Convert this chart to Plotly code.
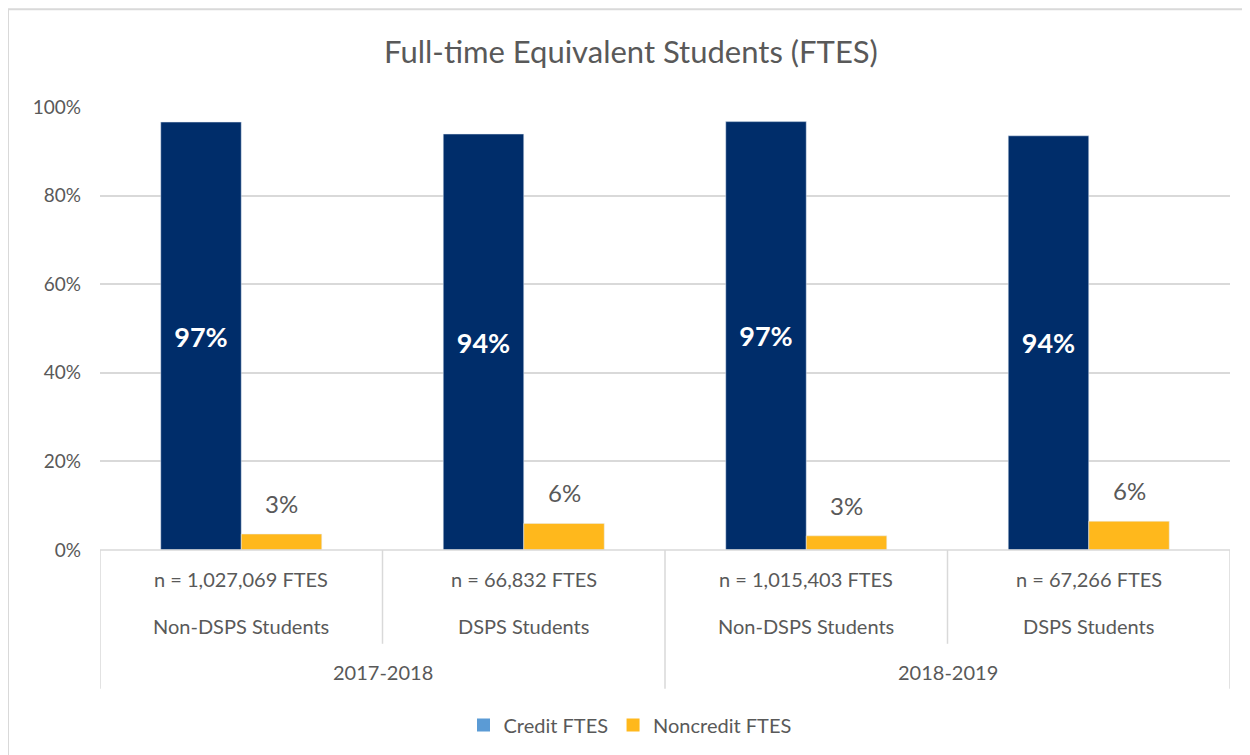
"""Clustered column chart of credit vs noncredit FTES shares."""

import plotly.graph_objects as go

YEARS = ["2017-2018", "2018-2019"]
GROUPS = ["Non-DSPS Students", "DSPS Students", "Non-DSPS Students", "DSPS Students"]
COUNTS = ["n = 1,027,069 FTES", "n = 66,832 FTES", "n = 1,015,403 FTES", "n = 67,266 FTES"]
CREDIT = [0.966, 0.939, 0.967, 0.935]
NONCREDIT = [0.036, 0.060, 0.032, 0.065]
CREDIT_LABELS = ["97%", "94%", "97%", "94%"]
NONCREDIT_LABELS = ["3%", "6%", "3%", "6%"]
Y_TICKS = [0, 0.2, 0.4, 0.6, 0.8, 1.0]

FONT = "Lato, 'Open Sans', sans-serif"
GREY = "#595959"
LINE = "#D9D9D9"
NAVY = "#002D6A"
GOLD = "#FFB81C"
BARGAP = 0.43

# the page body adds an 8px margin, so the figure is laid out 8px smaller
OFF = 8
W, H = 1250 - OFF, 755 - OFF
# plot area edges in reference-image pixels
PL, PR, PT, PB = 100, 1230, 107, 551
L, R, T, B = PL - OFF, W - (PR - OFF), PT - OFF, H - (PB - OFF)
PW, PH = PR - PL, PB - PT


def px_x(x):
    return (x - PL) / PW


def px_y(y):
    return (PB - y) / PH


x = list(range(len(GROUPS)))
fig = go.Figure()
fig.add_trace(go.Bar(
    x=x, y=CREDIT, marker={"color": NAVY}, offsetgroup="c", showlegend=False,
    text=CREDIT_LABELS, textposition="inside", insidetextanchor="middle",
    textfont={"color": "white", "size": 27, "family": FONT, "weight": "bold"},
))
fig.add_trace(go.Bar(
    x=x, y=NONCREDIT, marker={"color": GOLD}, offsetgroup="n", showlegend=False,
))
# legend entries (Excel legend swatch for credit is light blue)
for name, color in [("Credit FTES", "#5B9BD5"), ("Noncredit FTES", GOLD)]:
    fig.add_trace(go.Scatter(x=[None], y=[None], name=name, mode="markers",
                             marker={"symbol": "square", "size": 13, "color": color}))

annotations = []
half_bar = (1 - BARGAP) / 4
for i in x:
    # noncredit value labels sit a little above the bar, as in Excel
    annotations.append(dict(x=i + half_bar, y=NONCREDIT[i], xref="x", yref="y",
                            text=NONCREDIT_LABELS[i], yanchor="bottom", yshift=14,
                            showarrow=False, font={"size": 24, "color": GREY, "family": FONT}))
    annotations.append(dict(x=i, y=px_y(580), xref="x", yref="paper", text=COUNTS[i],
                            yanchor="middle", showarrow=False,
                            font={"size": 20, "color": GREY, "family": FONT}))
    annotations.append(dict(x=i, y=px_y(627), xref="x", yref="paper", text=GROUPS[i],
                            yanchor="middle", showarrow=False,
                            font={"size": 20, "color": GREY, "family": FONT}))
for j, year in enumerate(YEARS):
    annotations.append(dict(x=2 * j + 0.5, y=px_y(673), xref="x", yref="paper", text=year,
                            yanchor="middle", showarrow=False,
                            font={"size": 20, "color": GREY, "family": FONT}))

shapes = []
for b in [-0.5, 0.5, 1.5, 2.5, 3.5]:
    bottom = 690 if b in (-0.5, 1.5, 3.5) else 645
    shapes.append(dict(type="line", xref="x", yref="paper", x0=b, x1=b,
                       y0=0, y1=px_y(bottom), line={"color": LINE, "width": 1.5}))
shapes.append(dict(type="line", xref="paper", yref="paper", x0=0, x1=1, y0=0, y1=0,
                   line={"color": LINE, "width": 1.5}))
# chart area border (top and left edges)
shapes.append(dict(type="line", xref="paper", yref="paper", x0=px_x(8), x1=px_x(1252),
                   y0=px_y(9), y1=px_y(9), line={"color": LINE, "width": 2}))
shapes.append(dict(type="line", xref="paper", yref="paper", x0=px_x(8), x1=px_x(8),
                   y0=px_y(9), y1=px_y(760), line={"color": LINE, "width": 2}))

fig.update_layout(
    width=W, height=H,
    title={"text": "Full-time Equivalent Students (FTES)", "x": (631 - OFF) / W,
           "xanchor": "center", "y": 1 - (52 - OFF) / H, "yanchor": "middle",
           "font": {"size": 31, "color": GREY, "family": FONT}},
    barmode="group", bargap=BARGAP, bargroupgap=0,
    plot_bgcolor="white", paper_bgcolor="white",
    margin={"l": L, "r": R, "t": T, "b": B},
    xaxis={"range": [-0.5, 3.5], "showticklabels": False, "showgrid": False,
           "zeroline": False, "fixedrange": True},
    yaxis={"range": [0, 1.0], "tickvals": Y_TICKS, "tickformat": ".0%",
           "showgrid": True, "gridcolor": LINE, "gridwidth": 1.5, "zeroline": False,
           "ticks": "", "ticklabelstandoff": 18,
           "tickfont": {"size": 19, "color": GREY, "family": FONT}},
    legend={"orientation": "h", "x": px_x(630), "xanchor": "center", "y": px_y(725),
            "yanchor": "middle", "font": {"size": 20, "color": GREY, "family": FONT},
            "itemwidth": 30, "traceorder": "normal"},
    annotations=annotations,
    shapes=shapes,
)

fig.write_html("out.html")
